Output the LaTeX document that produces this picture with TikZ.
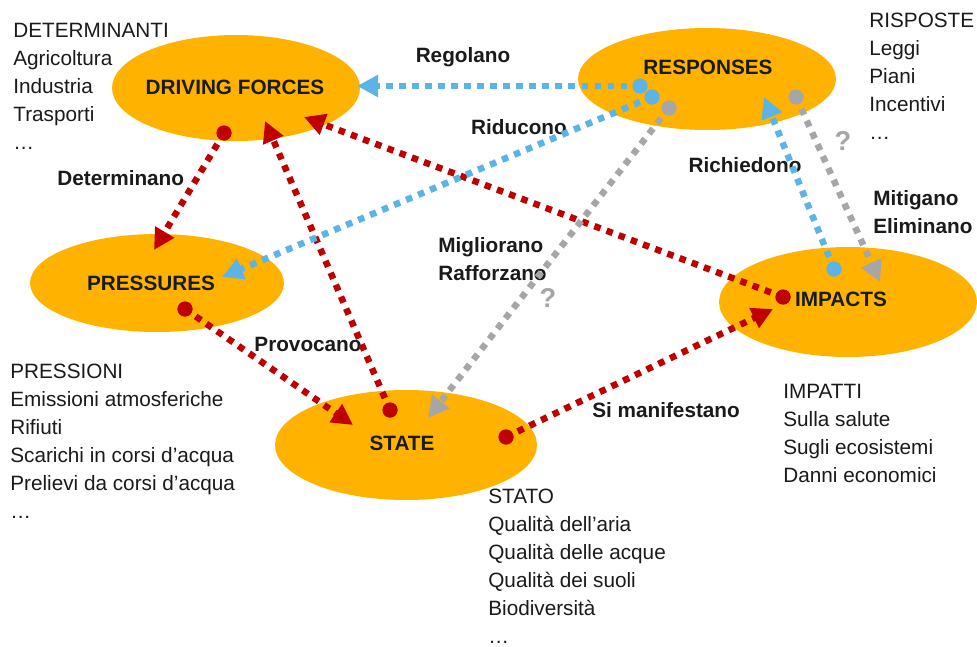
\documentclass[tikz,border=0pt]{standalone}
\usepackage{fontspec}
\setmainfont{Liberation Sans}
\usetikzlibrary{arrows.meta}
\definecolor{ellorange}{HTML}{FFB300}
\definecolor{linkred}{HTML}{C00000}
\definecolor{linkblue}{HTML}{5BB4E5}
\definecolor{linkgrey}{HTML}{A6A6A6}
\definecolor{txtgrey}{HTML}{1A1A1A}

\begin{document}
\begin{tikzpicture}[
    x=0.02cm, y=-0.02cm,
    every node/.style={font=\fontsize{11.8pt}{14pt}\selectfont, text=txtgrey, inner sep=0pt},
    lab/.style={font=\fontsize{11.8pt}{14pt}\selectfont\bfseries},
    qmark/.style={font=\fontsize{15.5pt}{17pt}\selectfont\bfseries, text=linkgrey, anchor=base},
    txt/.style={anchor=base west},
    dot/.style={circle, fill, minimum size=0.3cm},
    link/.style={line width=0.13cm, dash pattern=on 3.7pt off 3.7pt,
      -{Triangle[length=0.42cm, width=0.42cm]}}
  ]
  \useasboundingbox (0,0) rectangle (977,646);
  % Ellipses
  \fill[ellorange] (236,88) ellipse (2.48cm and 1.06cm);
  \fill[ellorange] (707,79) ellipse (2.58cm and 1.02cm);
  \fill[ellorange] (157,283) ellipse (2.54cm and 0.98cm);
  \fill[ellorange] (406,445) ellipse (2.62cm and 1.10cm);
  \fill[ellorange] (848,302) ellipse (2.58cm and 1.10cm);
  \node[lab, anchor=base] (df-lab) at (235,94) {DRIVING FORCES};
  \node[lab, anchor=base] (resp-lab) at (708,74) {RESPONSES};
  \node[lab, anchor=base] (press-lab) at (151,290) {PRESSURES};
  \node[lab, anchor=base] (state-lab) at (402,450) {STATE};
  \node[lab, anchor=base] (imp-lab) at (841,306) {IMPACTS};
  % Lists
  \foreach \t [count=\i from 0] in {DETERMINANTI, Agricoltura, Industria, Trasporti, …}
    \node[txt] (det-\i) at (13, {37+28*\i}) {\t};
  \foreach \t [count=\i from 0] in {RISPOSTE, Leggi, Piani, Incentivi, …}
    \node[txt] (ris-\i) at (869, {27+28*\i}) {\t};
  \foreach \t [count=\i from 0] in {PRESSIONI, Emissioni atmosferiche, Rifiuti,
      Scarichi in corsi d’acqua, Prelievi da corsi d’acqua, …}
    \node[txt] (pre-\i) at (10, {378+28*\i}) {\t};
  \foreach \t [count=\i from 0] in {IMPATTI, Sulla salute, Sugli ecosistemi, Danni economici}
    \node[txt] (imp-\i) at (783, {398+28*\i}) {\t};
  \foreach \t [count=\i from 0] in {STATO, Qualità dell’aria, Qualità delle acque,
      Qualità dei suoli, Biodiversità, …}
    \node[txt] (sta-\i) at (488, {503+28*\i}) {\t};
  % Link labels
  \node[lab, anchor=base] (regolano) at (463,62) {Regolano};
  \node[lab, anchor=base] (riducono) at (519,134) {Riducono};
  \node[lab, anchor=base west] (determinano) at (57,185) {Determinano};
  \node[lab, anchor=base] (richiedono) at (745,172) {Richiedono};
  \node[lab, anchor=base west] (mitigano) at (873,205) {Mitigano};
  \node[lab, anchor=base west] (eliminano) at (873,233) {Eliminano};
  \node[lab, anchor=base west] (migliorano) at (438,252) {Migliorano};
  \node[lab, anchor=base west] (rafforzano) at (438,280) {Rafforzano};
  \node[lab, anchor=base] (provocano) at (308,351) {Provocano};
  \node[lab, anchor=base west] (manifestano) at (592,417) {Si manifestano};
  \node[qmark] (q-state) at (548,307) {?};
  \node[qmark] (q-imp) at (843,150) {?};
  % Dots
  \node[dot, linkred] (d-df) at (224,133) {};
  \node[dot, linkred] (d-press) at (185,309) {};
  \node[dot, linkred] (d-state1) at (390,410) {};
  \node[dot, linkred] (d-state2) at (506,437) {};
  \node[dot, linkred] (d-imp1) at (783,297) {};
  \node[dot, linkblue] (d-resp1) at (640,86) {};
  \node[dot, linkblue] (d-resp2) at (652,97) {};
  \node[dot, linkblue] (d-imp2) at (834,269) {};
  \node[dot, linkgrey] (d-resp3) at (669,108) {};
  \node[dot, linkgrey] (d-resp4) at (796,97) {};
  % Arrow tips
  \coordinate (t-press1) at (154,250);
  \coordinate (t-state1) at (353,425);
  \coordinate (t-df1) at (265,121);
  \coordinate (t-imp1) at (773,309);
  \coordinate (t-df2) at (304,117);
  \coordinate (t-df3) at (357,86);
  \coordinate (t-press2) at (222,277);
  \coordinate (t-resp) at (764,97);
  \coordinate (t-state2) at (428,418);
  \coordinate (t-imp2) at (880,282);
  % Links
  \draw[link, linkred] (d-df.center) -- (t-press1);
  \draw[link, linkred] (d-press.center) -- (t-state1);
  \draw[link, linkred] (d-state1.center) -- (t-df1);
  \draw[link, linkred] (d-state2.center) -- (t-imp1);
  \draw[link, linkred] (d-imp1.center) -- (t-df2);
  \draw[link, linkblue] (d-resp1.center) -- (t-df3);
  \draw[link, linkblue] (d-resp2.center) -- (t-press2);
  \draw[link, linkblue] (d-imp2.center) -- (t-resp);
  \draw[link, linkgrey] (d-resp3.center) -- (t-state2);
  \draw[link, linkgrey] (d-resp4.center) -- (t-imp2);
  % Dots on top
  \foreach \d/\c in {df/linkred, press/linkred, state1/linkred, state2/linkred,
      imp1/linkred, resp1/linkblue, resp2/linkblue, imp2/linkblue,
      resp3/linkgrey, resp4/linkgrey}
    \fill[\c] (d-\d.center) circle (0.15cm);
\end{tikzpicture}
\end{document}
